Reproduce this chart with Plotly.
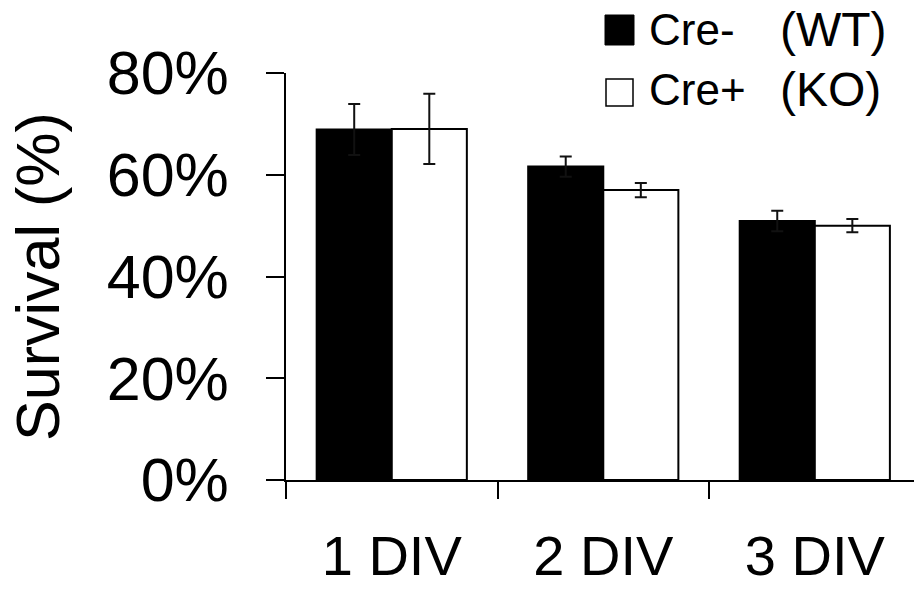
import plotly.graph_objects as go

categories = ["1 DIV", "2 DIV", "3 DIV"]
wt_values = [0.689, 0.616, 0.509]
wt_errors = [0.050, 0.020, 0.020]
ko_values = [0.690, 0.570, 0.500]
ko_errors = [0.069, 0.014, 0.013]
y_tickvals = [0, 0.2, 0.4, 0.6, 0.8]
y_ticktext = ["0%", "20%", "40%", "60%", "80%"]
legend_labels = [("Cre-", "(WT)"), ("Cre+", "(KO)")]

FONT = "Liberation Sans, Arial, Helvetica, sans-serif"

fig = go.Figure()
fig.add_trace(go.Bar(
    x=categories, y=wt_values, name="Cre-  (WT)",
    marker=dict(color="black", line=dict(color="black", width=2)),
    error_y=dict(type="data", array=wt_errors, color="#111111", thickness=2, width=6),
))
fig.add_trace(go.Bar(
    x=categories, y=ko_values, name="Cre+ (KO)",
    marker=dict(color="white", line=dict(color="black", width=2)),
    error_y=dict(type="data", array=ko_errors, color="#111111", thickness=2, width=6),
))

L, T, B = 286, 73, 110
W, H = 914, 590
pw = W - L
ph = H - T - B

def px(x):
    return (x - L) / pw

def py(y):
    return (H - B - y) / ph

shapes = [
    dict(type="rect", xref="paper", yref="paper", x0=px(605), x1=px(634), y0=py(45), y1=py(15),
         fillcolor="black", line=dict(color="black", width=1)),
    dict(type="rect", xref="paper", yref="paper", x0=px(606), x1=px(633), y0=py(106), y1=py(79),
         fillcolor="white", line=dict(color="black", width=1.5)),
]
annotations = []
for (a, b), yc in zip(legend_labels, [29, 90]):
    annotations.append(dict(xref="paper", yref="paper", x=px(647), y=py(yc), text=a, showarrow=False,
                            xanchor="left", yanchor="middle", font=dict(size=44, color="black", family=FONT)))
    annotations.append(dict(xref="paper", yref="paper", x=px(778), y=py(yc), text=b, showarrow=False,
                            xanchor="left", yanchor="middle", font=dict(size=48, color="black", family=FONT)))

fig.update_layout(
    template="none",
    width=W, height=H,
    margin=dict(l=L, r=0, t=T, b=B, pad=0, autoexpand=False),
    paper_bgcolor="white", plot_bgcolor="white",
    barmode="group", bargap=0.29, bargroupgap=0,
    showlegend=False,
    font=dict(family=FONT, color="black"),
    shapes=shapes, annotations=annotations,
    xaxis=dict(
        type="category", range=[-0.5, 2.469], tickson="boundaries", automargin=False,
        ticks="outside", ticklen=17, tickwidth=2, tickcolor="black",
        showline=True, linecolor="black", linewidth=2,
        showgrid=False, zeroline=False,
        tickfont=dict(size=56, family=FONT, color="black"),
        ticklabelstandoff=26,
    ),
    yaxis=dict(
        range=[0, 0.8], tickvals=y_tickvals, ticktext=y_ticktext, automargin=False,
        ticks="outside", ticklen=18, tickwidth=2, tickcolor="black",
        showline=True, linecolor="black", linewidth=2,
        showgrid=False, zeroline=False,
        tickfont=dict(size=61, family=FONT, color="black"),
        ticklabelstandoff=25,
        title=dict(text="Survival (%)", font=dict(size=61, family=FONT, color="black"), standoff=27),
    ),
)

fig.write_html("out.html", config={"displayModeBar": False},
               post_script="document.body.style.margin='0';document.body.style.overflow='hidden';")
